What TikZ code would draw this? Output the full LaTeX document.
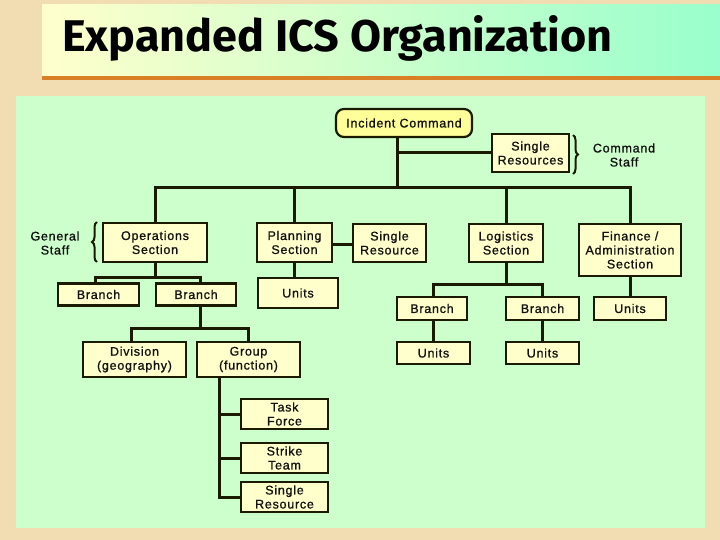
\documentclass[tikz,border=0pt]{standalone}
\usepackage{fontspec}
\usepackage{graphicx}
\setmainfont{Liberation Sans}
\newfontfamily\boxfont{Liberation Sans}[LetterSpace=6,FakeBold=1]
\newfontfamily\titlefont{Fira Sans}
\usetikzlibrary{decorations.pathreplacing}
\definecolor{bgbeige}{HTML}{F2DCB2}
\definecolor{titleL}{HTML}{FFFFCC}
\definecolor{titleM}{HTML}{CCFFCC}
\definecolor{titleR}{HTML}{99FFCC}
\definecolor{orangeline}{HTML}{D98026}
\definecolor{panel}{HTML}{CCFFCC}
\definecolor{boxfill}{HTML}{FFFFCC}
\definecolor{icfill}{HTML}{FFFF99}
\definecolor{boxline}{HTML}{1A1A00}
\definecolor{textcol}{HTML}{111111}
\tikzset{
  box/.style={draw=boxline, line width=2.2pt, fill=boxfill, align=center,
    inner sep=0pt, text=textcol, font=\boxfont\fontsize{12.5}{14}\selectfont},
  lbl/.style={align=center, inner sep=0pt, text=textcol, font=\boxfont\fontsize{12.5}{14}\selectfont},
  conn/.style={draw=boxline, line width=3pt},
  bracestyle/.style={draw=boxline, line width=2pt, decorate, decoration={brace, amplitude=5pt}}
}
\begin{document}
\begin{tikzpicture}[x=1pt,y=-1pt]
\useasboundingbox (0,0) rectangle (720,540);
\fill[bgbeige] (0,0) rectangle (720,540);
\shade[left color=titleL, right color=titleR, middle color=titleM] (42,5) rectangle (720,77);
\fill[orangeline] (42,76) rectangle (720,80);
\fill[panel] (16,96) rectangle (705,528);
\node[anchor=base west, inner sep=0pt] (title) at (62,52)
  {\resizebox{550pt}{36pt}{\titlefont\bfseries Expanded ICS Organization}};

% x / y reference coordinates
\coordinate (barY) at (0,188);
\coordinate (opsY) at (0,277);
\coordinate (brY) at (0,328);
\coordinate (logY) at (0,284);
\coordinate (icX) at (397,0);
\coordinate (gX) at (219,0);

% nodes
\node[box, rounded corners=8pt, fill=icfill, minimum width=136, minimum height=28] (ic) at (404,123) {Incident Command};
\node[box, minimum width=77, minimum height=38] (sr0) at (530.5,153) {Single\\Resources};
\node[lbl] (cmdstaff) at (624,155) {Command\\Staff};
\node[lbl] (genstaff) at (55,243) {General\\Staff};

\node[box, minimum width=104, minimum height=39] (ops) at (155,242.5) {Operations\\Section};
\node[box, minimum width=75, minimum height=39] (plan) at (294.5,242.5) {Planning\\Section};
\node[box, minimum width=73, minimum height=38] (sr1) at (389.5,243) {Single\\Resource};
\node[box, minimum width=74, minimum height=38] (log) at (506,243) {Logistics\\Section};
\node[box, minimum width=102, minimum height=52] (fin) at (630,250) {Finance /\\Administration\\Section};

\node[box, minimum width=81, minimum height=22] (bo1) at (98.5,294.5) {Branch};
\node[box, minimum width=80, minimum height=22] (bo2) at (196,294.5) {Branch};
\node[box, minimum width=80, minimum height=30] (unp) at (298,293) {Units};

\node[box, minimum width=103, minimum height=35] (div) at (134.5,359.5) {Division\\(geography)};
\node[box, minimum width=103, minimum height=35] (grp) at (248.5,359.5) {Group\\(function)};

\node[box, minimum width=87, minimum height=30] (tf) at (284.5,414) {Task\\Force};
\node[box, minimum width=87, minimum height=30] (st) at (284.5,458) {Strike\\Team};
\node[box, minimum width=87, minimum height=30] (sr2) at (284.5,497) {Single\\Resource};

\node[box, minimum width=70, minimum height=23] (bl1) at (432,308.5) {Branch};
\node[box, minimum width=73, minimum height=23] (bl2) at (542.5,308.5) {Branch};
\node[box, minimum width=72, minimum height=23] (unf) at (630,308.5) {Units};
\node[box, minimum width=73, minimum height=22] (ul1) at (433.5,353) {Units};
\node[box, minimum width=73, minimum height=22] (ul2) at (542.5,353) {Units};

% braces
\draw[bracestyle] (97,262) -- (97,222);
\draw[bracestyle] (573,135) -- (573,174);

% connectors
\draw[conn] (ic.south -| icX) -- (icX |- barY);
\draw[conn] (icX |- sr0.west) -- (sr0.west);
\draw[conn] (ops.north) -- (ops.north |- barY) -- (fin.north |- barY) -- (fin.north);
\draw[conn] (plan.north) -- (plan.north |- barY);
\draw[conn] (log.north) -- (log.north |- barY);
\draw[conn] ([yshift=-2pt]plan.east) -- ([yshift=-2pt]plan.east -| sr1.west);
\draw[conn] (ops.south) -- (ops.south |- opsY);
\draw[conn] ([xshift=-3.5pt]bo1.north) -- ([xshift=-3.5pt]bo1.north |- opsY) -- ([xshift=4pt]bo2.north |- opsY) -- ([xshift=4pt]bo2.north);
\draw[conn] (plan.south) -- (plan.south |- unp.north);
\draw[conn] ([xshift=4pt]bo2.south) -- ([xshift=4pt]bo2.south |- brY);
\draw[conn] ([xshift=-3.5pt]div.north) -- ([xshift=-3.5pt]div.north |- brY) -- ([xshift=-0.5pt]grp.north |- brY) -- ([xshift=-0.5pt]grp.north);
\draw[conn] (grp.south -| gX) -- (gX |- sr2.west) -- (sr2.west);
\draw[conn] (gX |- tf.west) -- (tf.west);
\draw[conn] (gX |- st.west) -- (st.west);
\draw[conn] (log.south) -- (log.south |- logY);
\draw[conn] ([xshift=1pt]bl1.north) -- ([xshift=1pt]bl1.north |- logY) -- (bl2.north |- logY) -- (bl2.north);
\draw[conn] (fin.south) -- (unf.north);
\draw[conn] ([xshift=1pt]bl1.south) -- ([xshift=1pt]bl1.south |- ul1.north);
\draw[conn] (bl2.south) -- (ul2.north);
\end{tikzpicture}
\end{document}
